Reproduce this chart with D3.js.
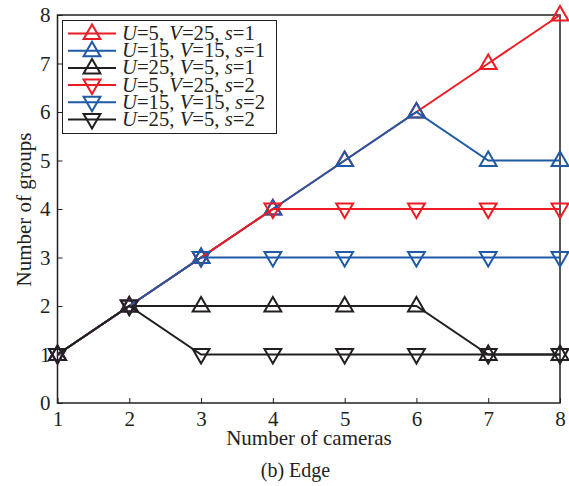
<!DOCTYPE html>
<html>
<head>
<meta charset="utf-8">
<script src="https://cdn.jsdelivr.net/npm/d3@7.9.0/dist/d3.min.js"></script>
<style>
  body { margin: 0; background: #fff; }
  text { font-family: "Liberation Serif", "Times New Roman", serif; fill: #231f20; }
</style>
</head>
<body>
<svg width="569" height="486"></svg>
<script>
const cameras = [1, 2, 3, 4, 5, 6, 7, 8];
const yTicks = [0, 1, 2, 3, 4, 5, 6, 7, 8];

const redUp = [1, 2, 3, 4, 5, 6, 7, 8];
const blueUp = [1, 2, 3, 4, 5, 6, 5, 5];
const blackUp = [1, 2, 2, 2, 2, 2, 1, 1];
const redDown = [1, 2, 3, 4, 4, 4, 4, 4];
const blueDown = [1, 2, 3, 3, 3, 3, 3, 3];
const blackDown = [1, 2, 1, 1, 1, 1, 1, 1];

const labels = [
  ['5', '25', '1'], ['15', '15', '1'], ['25', '5', '1'],
  ['5', '25', '2'], ['15', '15', '2'], ['25', '5', '2']
];

const red = '#ed1c24', blue = '#1f5aa6', black = '#231f20';

const series = [
  { values: redUp, color: red, up: true },
  { values: blueUp, color: blue, up: true },
  { values: blackUp, color: black, up: true },
  { values: redDown, color: red, up: false },
  { values: blueDown, color: blue, up: false },
  { values: blackDown, color: black, up: false }
];

const svg = d3.select('svg');
const plotL = 57.5, plotR = 560, plotT = 15, plotB = 403;

const x = d3.scaleLinear().domain([1, 8]).range([plotL, plotR]);
const y = d3.scaleLinear().domain([0, 8]).range([plotB, plotT]);

// frame
svg.append('rect')
  .attr('x', plotL).attr('y', plotT)
  .attr('width', plotR - plotL).attr('height', plotB - plotT)
  .attr('fill', 'none').attr('stroke', black).attr('stroke-width', 1.5);

// axes with inward ticks
const xAxis = d3.axisBottom(x).tickValues(cameras).tickFormat(d3.format('d')).tickSize(-5).tickPadding(6);
const gx = svg.append('g').attr('transform', `translate(0,${plotB})`).call(xAxis);
const yAxis = d3.axisLeft(y).tickValues(yTicks).tickFormat(d3.format('d')).tickSize(-5).tickPadding(7);
const gy = svg.append('g').attr('transform', `translate(${plotL},0)`).call(yAxis);
[gx, gy].forEach(g => {
  g.attr('font-family', null).attr('font-size', null);
  g.select('.domain').remove();
  g.selectAll('line').attr('stroke', black).attr('stroke-width', 1);
  g.selectAll('text').style('font-size', '21px').attr('fill', black);
});
gx.selectAll('text').attr('dy', '0.8em');

const tri = (up, s) => up
  ? `M0,${-s * 0.62}L${s * 0.58},${s * 0.38}L${-s * 0.58},${s * 0.38}Z`
  : `M0,${s * 0.62}L${s * 0.58},${-s * 0.38}L${-s * 0.58},${-s * 0.38}Z`;

const line = d3.line().x((d, i) => x(cameras[i])).y(d => y(d));

series.forEach(s => {
  svg.append('path')
    .attr('d', line(s.values))
    .attr('fill', 'none').attr('stroke', s.color).attr('stroke-width', 2);
  svg.append('g').selectAll('path')
    .data(s.values).join('path')
    .attr('transform', (d, i) => `translate(${x(cameras[i])},${y(d)})`)
    .attr('d', tri(s.up, 14.5))
    .attr('fill', 'none').attr('stroke', s.color).attr('stroke-width', 2);
});

// legend
const lg = svg.append('g');
lg.append('rect')
  .attr('x', 62.5).attr('y', 20.5).attr('width', 214).attr('height', 113)
  .attr('fill', '#fff').attr('stroke', black).attr('stroke-width', 1);
series.forEach((s, i) => {
  const ly = 33.5 + i * 17.2;
  lg.append('line')
    .attr('x1', 68).attr('x2', 116).attr('y1', ly).attr('y2', ly)
    .attr('stroke', s.color).attr('stroke-width', 2);
  lg.append('path')
    .attr('transform', `translate(92,${ly})`)
    .attr('d', tri(s.up, 14.5))
    .attr('fill', 'none').attr('stroke', s.color).attr('stroke-width', 2);
  const t = lg.append('text').attr('x', 122).attr('y', ly + 6.5)
    .style('font-size', '20.7px').attr('xml:space', 'preserve');
  const [u, v, sv] = labels[i];
  t.append('tspan').attr('font-style', 'italic').text('U');
  t.append('tspan').text(`=${u}, `);
  t.append('tspan').attr('font-style', 'italic').text('V');
  t.append('tspan').text(`=${v}, `);
  t.append('tspan').attr('font-style', 'italic').text('s');
  t.append('tspan').text(`=${sv}`);
});

// axis titles
svg.append('text')
  .attr('transform', 'translate(31,209.5) rotate(-90)')
  .attr('text-anchor', 'middle').style('font-size', '21px')
  .text('Number of groups');
svg.append('text')
  .attr('x', 309).attr('y', 445)
  .attr('text-anchor', 'middle').style('font-size', '21px')
  .text('Number of cameras');
svg.append('text')
  .attr('x', 295.5).attr('y', 477)
  .attr('text-anchor', 'middle').style('font-size', '20px')
  .text('(b) Edge');
</script>
</body>
</html>
